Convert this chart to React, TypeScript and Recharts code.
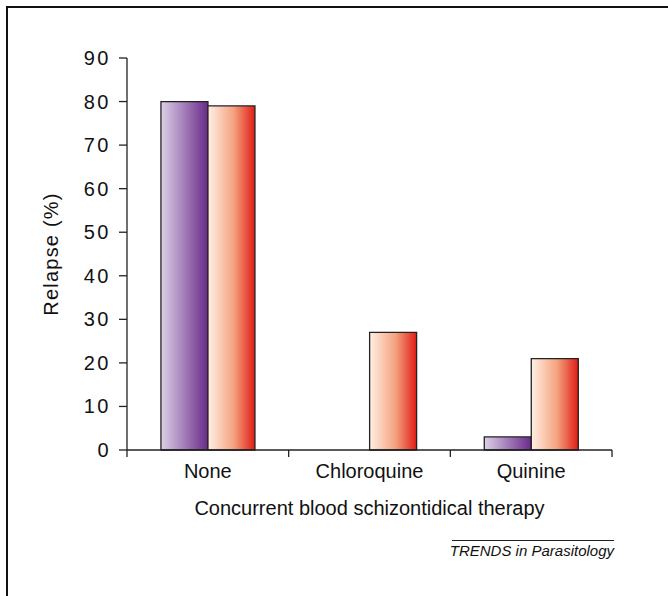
import React from "react";
import { BarChart, Bar, XAxis, YAxis, Label } from "recharts";

const categories = ["None", "Chloroquine", "Quinine"];
const seriesA = [80, 0, 3];
const seriesB = [79, 27, 21];
const yTicks = [0, 10, 20, 30, 40, 50, 60, 70, 80, 90];

const data = categories.map((name, i) => ({ name, a: seriesA[i], b: seriesB[i] }));

const W = 668;
const H = 596;
const Y_AXIS_W = 100;
const X_AXIS_H = 70;
// plot area: x 127..612, y 58..450
const margin = { top: 58, right: 56, left: 127 - Y_AXIS_W, bottom: 146 - X_AXIS_H };
const band = (W - 127 - margin.right) / categories.length;
const font = "'Liberation Sans', Arial, sans-serif";

const CategoryTick = (props: any) => {
  const { x, y, payload, index } = props;
  const last = index === categories.length - 1;
  return (
    <g>
      <line x1={x - band / 2} x2={x - band / 2} y1={y} y2={y + 7} stroke="#222" strokeWidth={1.3} />
      {last && (
        <line x1={x + band / 2} x2={x + band / 2} y1={y} y2={y + 7} stroke="#222" strokeWidth={1.3} />
      )}
      <text x={x} y={y + 28} textAnchor="middle" fontSize={20} fill="#111" fontFamily={font}>
        {payload.value}
      </text>
    </g>
  );
};

const ValueTick = (props: any) => {
  const { x, y, payload } = props;
  return (
    <text
      x={x}
      y={y + 7}
      textAnchor="end"
      fontSize={20}
      fill="#111"
      fontFamily={font}
      letterSpacing={2.5}
    >
      {payload.value}
    </text>
  );
};

export default function App() {
  return (
    <div style={{ position: "absolute", left: 0, top: 0, width: W, height: H, background: "#fff", fontFamily: font }}>
      <div
        style={{
          position: "absolute",
          left: 6,
          top: 6,
          width: W - 6,
          height: H - 6,
          borderTop: "2px solid #111",
          borderLeft: "2px solid #111",
          boxSizing: "border-box",
        }}
      />
      <BarChart
        width={W}
        height={H}
        data={data}
        margin={margin}
        barCategoryGap="21%"
        barGap={0}
        style={{ position: "absolute", left: 0, top: 0 }}
      >
        <defs>
          <linearGradient id="gradA" x1="0" y1="0" x2="1" y2="0">
            <stop offset="0%" stopColor="#dcd0e6" />
            <stop offset="100%" stopColor="#6a2a8a" />
          </linearGradient>
          <linearGradient id="gradB" x1="0" y1="0" x2="1" y2="0">
            <stop offset="0%" stopColor="#fff0e4" />
            <stop offset="55%" stopColor="#f4a27e" />
            <stop offset="100%" stopColor="#e01c16" />
          </linearGradient>
        </defs>
        <XAxis
          dataKey="name"
          tickLine={false}
          tickSize={0}
          tickMargin={0}
          tick={<CategoryTick />}
          axisLine={{ stroke: "#222", strokeWidth: 1.3 }}
          height={X_AXIS_H}
          interval={0}
        >
          <Label
            value="Concurrent blood schizontidical therapy"
            position="insideBottom"
            offset={0}
            dy={-5}
            style={{ fontSize: 20, fill: "#111", fontFamily: font }}
          />
        </XAxis>
        <YAxis
          domain={[0, 90]}
          ticks={yTicks}
          interval={0}
          tickSize={8}
          tickMargin={8}
          axisLine={{ stroke: "#222", strokeWidth: 1.3 }}
          tickLine={{ stroke: "#222", strokeWidth: 1.3 }}
          tick={<ValueTick />}
          width={Y_AXIS_W}
        >
          <Label
            value="Relapse (%)"
            angle={-90}
            position="insideLeft"
            offset={0}
            dx={24}
            style={{ fontSize: 20, fill: "#111", fontFamily: font, textAnchor: "middle", letterSpacing: 1.2 }}
          />
        </YAxis>
        <Bar dataKey="a" fill="url(#gradA)" stroke="#222" strokeWidth={1.3} isAnimationActive={false} />
        <Bar dataKey="b" fill="url(#gradB)" stroke="#222" strokeWidth={1.3} isAnimationActive={false} />
      </BarChart>
      <div
        style={{
          position: "absolute",
          left: 452,
          top: 540,
          width: 162,
          borderTop: "1.3px solid #222",
        }}
      />
      <div
        style={{
          position: "absolute",
          right: W - 614,
          top: 542,
          fontSize: 15,
          fontStyle: "italic",
          color: "#111",
          whiteSpace: "nowrap",
          lineHeight: "18px",
        }}
      >
        TRENDS in Parasitology
      </div>
    </div>
  );
}
